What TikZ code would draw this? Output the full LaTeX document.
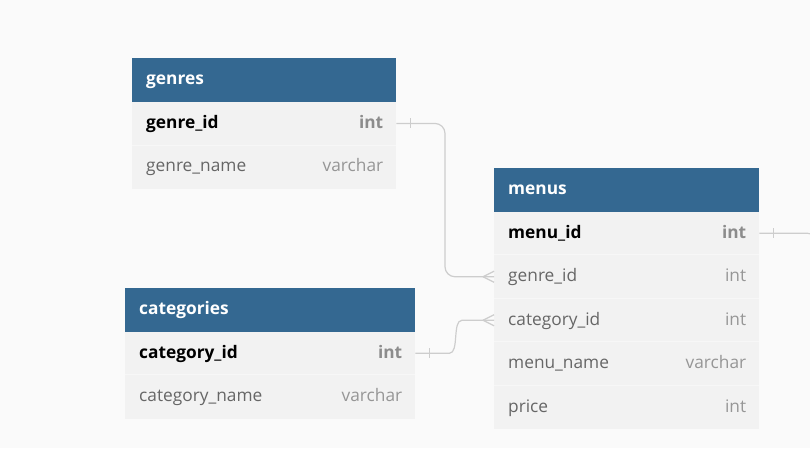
\documentclass[tikz,border=0pt]{standalone}
\usepackage{fontspec}
\setmainfont{Open Sans}
\usetikzlibrary{calc}
\definecolor{bg}{RGB}{250,250,250}
\definecolor{hdrblue}{RGB}{52,104,145}
\definecolor{rowgray}{RGB}{242,242,242}
\definecolor{sepgray}{RGB}{247,247,247}
\definecolor{namegray}{RGB}{102,102,102}
\definecolor{typegray}{RGB}{150,150,150}
\definecolor{keytype}{RGB}{140,140,140}
\definecolor{conngray}{RGB}{205,205,205}
\tikzset{
  hdr/.style={fill=hdrblue, draw=none, anchor=north west, inner sep=0pt, minimum height=43.5pt, minimum width=#1},
  fieldrow/.style={fill=rowgray, draw=none, anchor=north west, inner sep=0pt, minimum height=43.5pt, minimum width=#1},
  hdrtxt/.style={anchor=base west, inner sep=0pt, text=white, font=\fontsize{17.3}{19}\selectfont\bfseries},
  keytxt/.style={anchor=base west, inner sep=0pt, text=black, font=\fontsize{17.3}{19}\selectfont\bfseries},
  fldtxt/.style={anchor=base west, inner sep=0pt, text=namegray, font=\fontsize{17.3}{19}\selectfont},
  keytyp/.style={anchor=base east, inner sep=0pt, text=keytype, font=\fontsize{17.3}{19}\selectfont\bfseries},
  fldtyp/.style={anchor=base east, inner sep=0pt, text=typegray, font=\fontsize{17.3}{19}\selectfont},
  sep/.style={draw=sepgray, line width=1pt},
  conn/.style={draw=conngray, line width=1.2pt},
}
\begin{document}
\begin{tikzpicture}[x=1pt, y=-1pt]
\useasboundingbox (0,0) rectangle (810,448);
\fill[bg] (0,0) rectangle (810,448);
\clip (0,0) rectangle (810,448);

% ---------- genres ----------
\node[hdr=264pt] (gh) at (132,58) {};
\node[fieldrow=264pt] (g1) at (132,101.5) {};
\node[fieldrow=264pt] (g2) at (132,145) {};
\draw[sep] (g2.north west) -- (g2.north east);
\node[hdrtxt] (ght) at ($(gh.west)+(14,5)$) {genres};
\node[keytxt] (g1n) at ($(g1.west)+(14,5)$) {genre\_id};
\node[keytyp] (g1t) at ($(g1.east)+(-13,5)$) {int};
\node[fldtxt] (g2n) at ($(g2.west)+(14,5)$) {genre\_name};
\node[fldtyp] (g2t) at ($(g2.east)+(-13,5)$) {varchar};

% ---------- menus ----------
\node[hdr=265pt] (mh) at (494,167.8) {};
\node[fieldrow=265pt] (m1) at (494,211.3) {};
\node[fieldrow=265pt] (m2) at (494,254.8) {};
\node[fieldrow=265pt] (m3) at (494,298.3) {};
\node[fieldrow=265pt] (m4) at (494,341.8) {};
\node[fieldrow=265pt] (m5) at (494,385.3) {};
\foreach \r in {m2,m3,m4,m5}{\draw[sep] (\r.north west) -- (\r.north east);}
\node[hdrtxt] (mht) at ($(mh.west)+(14,5)$) {menus};
\node[keytxt] (m1n) at ($(m1.west)+(14,5)$) {menu\_id};
\node[keytyp] (m1t) at ($(m1.east)+(-13,5)$) {int};
\node[fldtxt] (m2n) at ($(m2.west)+(14,5)$) {genre\_id};
\node[fldtyp] (m2t) at ($(m2.east)+(-13,5)$) {int};
\node[fldtxt] (m3n) at ($(m3.west)+(14,5)$) {category\_id};
\node[fldtyp] (m3t) at ($(m3.east)+(-13,5)$) {int};
\node[fldtxt] (m4n) at ($(m4.west)+(14,5)$) {menu\_name};
\node[fldtyp] (m4t) at ($(m4.east)+(-13,5)$) {varchar};
\node[fldtxt] (m5n) at ($(m5.west)+(14,5)$) {price};
\node[fldtyp] (m5t) at ($(m5.east)+(-13,5)$) {int};

% ---------- categories ----------
\node[hdr=290pt] (ch) at (125,287.8) {};
\node[fieldrow=290pt] (c1) at (125,331.3) {};
\node[fieldrow=290pt] (c2) at (125,374.8) {};
\draw[sep] (c2.north west) -- (c2.north east);
\node[hdrtxt] (cht) at ($(ch.west)+(14,5)$) {categories};
\node[keytxt] (c1n) at ($(c1.west)+(14,5)$) {category\_id};
\node[keytyp] (c1t) at ($(c1.east)+(-13,5)$) {int};
\node[fldtxt] (c2n) at ($(c2.west)+(14,5)$) {category\_name};
\node[fldtyp] (c2t) at ($(c2.east)+(-13,5)$) {varchar};

% ---------- connectors ----------
% genres.genre_id -> menus.genre_id
\draw[conn, rounded corners=10pt] (g1.east) -| ($(m2.west)+(-49,0)$) -- (m2.west);
\draw[conn] ($(g1.east)+(14,-5)$) -- ($(g1.east)+(14,5)$);
\draw[conn] ($(m2.west)+(-11,0)$) -- ($(m2.west)+(0,-5.5)$);
\draw[conn] ($(m2.west)+(-11,0)$) -- ($(m2.west)+(0,5.5)$);

% categories.category_id -> menus.category_id
\coordinate (cA) at ($(c1.east)+(34,0)$);
\coordinate (cB) at ($(m3.west)+(-32,0)$);
\draw[conn] (c1.east) -- (cA) .. controls ($(cA)+(10,0)$) and ($(cB)+(-10,0)$) .. (cB) -- (m3.west);
\draw[conn] ($(c1.east)+(14,-5)$) -- ($(c1.east)+(14,5)$);
\draw[conn] ($(m3.west)+(-11,0)$) -- ($(m3.west)+(0,-5.5)$);
\draw[conn] ($(m3.west)+(-11,0)$) -- ($(m3.west)+(0,5.5)$);

% menus.menu_id -> off to the right
\coordinate (mOut) at ($(m1.east)+(58,40)$);
\draw[conn, rounded corners=10pt] (m1.east) -| (mOut);
\draw[conn] ($(m1.east)+(14,-5)$) -- ($(m1.east)+(14,5)$);
\end{tikzpicture}
\end{document}
